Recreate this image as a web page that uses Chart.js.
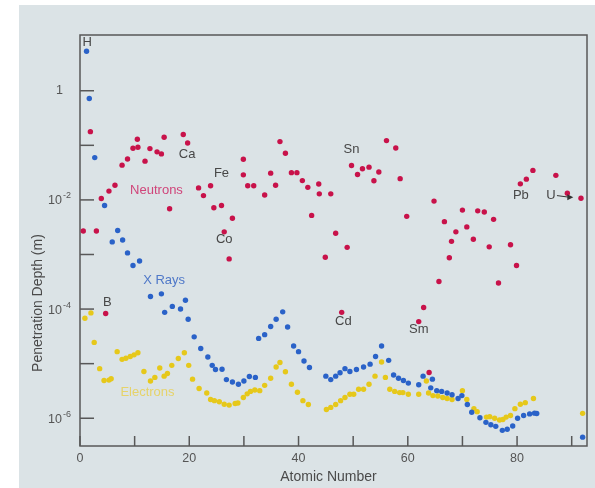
<!DOCTYPE html>
<html lang="en">
<head>
<meta charset="UTF-8">
<title>Penetration Depth vs Atomic Number</title>
<script src="https://cdn.jsdelivr.net/npm/chart.js"></script>
<style>
  html, body { margin: 0; padding: 0; background: #ffffff; }
  #panel { position: absolute; left: 19px; top: 5px; width: 576px; height: 483px; background: #dbe3e6; }
</style>
</head>
<body>
<div id="panel"><canvas id="depthChart" width="576" height="483"></canvas></div>
<script>
// Atomic number and penetration depth (m)
const neutronZ = [0.6, 1.9, 3.0, 3.9, 4.7, 5.3, 6.4, 7.7, 8.7, 9.7, 10.5, 10.6, 11.9, 12.8, 14.1, 14.9, 15.4, 16.4,
  18.9, 19.7, 21.7, 22.6, 23.9, 24.5, 25.9, 26.4, 27.3, 27.9, 29.9, 29.9, 30.7, 31.8, 33.8, 34.9, 35.8, 36.6, 37.6,
  38.7, 39.7, 40.7, 41.7, 42.4, 43.7, 43.8, 44.9, 45.9, 46.8, 47.9, 48.9, 49.7, 50.8, 51.7, 52.9, 53.8, 54.7, 56.1,
  57.8, 58.6, 59.8, 62.0, 62.9, 63.9, 64.8, 65.7, 66.7, 67.6, 68.0, 68.8, 70.0, 70.8, 72.0, 72.8, 74.0, 74.9, 75.7,
  76.6, 78.8, 79.9, 80.6, 81.7, 82.9, 87.1, 89.2, 91.7];
const neutronDepth = [2.7e-3, 0.178, 2.7e-3, 0.0106, 8.3e-5, 0.0145, 0.0186, 0.0433, 0.0562, 0.0885, 0.129, 0.0923, 0.0513, 0.0871, 0.0759, 0.0697, 0.141, 6.9e-3,
  0.158, 0.110, 0.0166, 0.0120, 0.0182, 7.2e-3, 7.9e-3, 2.6e-3, 8.3e-4, 4.6e-3, 0.0557, 0.0288, 0.0182, 0.0182, 0.0123, 0.0309, 0.0186, 0.117, 0.0716,
  0.0316, 0.0316, 0.0226, 0.0170, 5.2e-3, 0.0195, 0.0129, 8.9e-4, 0.0129, 2.45e-3, 8.7e-5, 1.35e-3, 0.0427, 0.0292, 0.0372, 0.0398, 0.0224, 0.0324, 0.122,
  0.0891, 0.0245, 5.0e-3, 5.9e-5, 1.07e-4, 6.9e-6, 9.5e-3, 3.2e-4, 4.0e-3, 8.7e-4, 1.74e-3, 2.6e-3, 6.5e-3, 3.2e-3, 1.9e-3, 6.3e-3, 6.0e-3, 1.38e-3, 4.4e-3,
  3.0e-4, 1.51e-3, 6.3e-4, 0.0197, 0.024, 0.0347, 0.0282, 0.0132, 0.0107];

const xrayZ = [1.2, 1.7, 2.7, 4.5, 5.9, 6.9, 7.8, 8.7, 9.7, 10.9, 12.9, 14.9, 15.5, 16.9, 18.4, 19.3, 19.8, 20.9, 22.1,
  23.4, 24.2, 24.8, 26.0, 26.8, 27.9, 29.0, 30.0, 31.0, 32.1, 32.7, 33.8, 34.9, 35.9, 37.1, 38.0, 39.1, 40.0, 41.0,
  42.0, 45.0, 45.9, 46.8, 47.6, 48.5, 49.4, 50.6, 51.9, 53.1, 54.1, 55.2, 56.5, 57.4, 58.3, 59.2, 60.1, 62.0, 62.8,
  64.2, 64.5, 65.3, 66.2, 67.2, 68.1, 69.2, 69.9, 70.9, 71.7, 73.2, 74.3, 75.2, 76.1, 77.3, 78.2, 79.2, 80.1, 81.2,
  82.3, 83.2, 83.6, 92.0];
const xrayDepth = [5.3, 0.72, 0.0596, 7.9e-3, 1.7e-3, 2.75e-3, 1.84e-3, 1.07e-3, 6.3e-4, 7.6e-4, 1.7e-4, 1.9e-4, 8.7e-5, 1.12e-4, 1.0e-4, 1.45e-4, 6.5e-5, 3.1e-5, 1.9e-5,
  1.32e-5, 9.3e-6, 7.8e-6, 7.9e-6, 5.1e-6, 4.6e-6, 4.2e-6, 4.8e-6, 5.8e-6, 5.6e-6, 2.9e-5, 3.4e-5, 4.8e-5, 6.5e-5, 8.9e-5, 4.7e-5, 2.1e-5, 1.66e-5, 1.12e-5,
  8.5e-6, 5.9e-6, 5.1e-6, 5.9e-6, 6.8e-6, 8.1e-6, 7.2e-6, 7.8e-6, 8.7e-6, 9.8e-6, 1.35e-5, 2.1e-5, 1.15e-5, 6.2e-6, 5.4e-6, 4.9e-6, 4.4e-6, 4.1e-6, 5.9e-6,
  3.6e-6, 5.2e-6, 3.2e-6, 3.1e-6, 2.9e-6, 2.7e-6, 2.3e-6, 2.6e-6, 1.78e-6, 1.29e-6, 1.02e-6, 8.4e-7, 7.6e-7, 7.1e-7, 6.0e-7, 6.3e-7, 7.2e-7, 1.0e-6, 1.12e-6,
  1.2e-6, 1.24e-6, 1.22e-6, 4.5e-7];

const electronZ = [0.9, 2.0, 2.6, 3.6, 4.4, 5.3, 5.7, 6.8, 7.7, 8.4, 9.2, 9.9, 10.6, 11.7, 12.9, 13.7, 14.6, 15.4, 16.0,
  16.8, 18.0, 19.1, 19.9, 20.6, 21.8, 23.2, 23.9, 24.6, 25.5, 26.4, 27.3, 28.4, 28.9, 29.9, 30.6, 31.2, 32.0, 32.9,
  33.8, 34.9, 35.9, 36.6, 37.6, 38.7, 39.8, 40.8, 41.8, 45.1, 45.9, 46.8, 47.7, 48.5, 49.4, 50.1, 51.0, 51.9, 52.9,
  54.0, 55.2, 55.9, 56.7, 57.6, 58.5, 59.1, 60.1, 62.0, 63.4, 63.8, 64.6, 65.5, 66.4, 67.2, 68.1, 70.0, 70.8, 72.1,
  72.7, 74.4, 75.0, 75.9, 76.8, 77.4, 78.0, 78.8, 79.6, 80.6, 81.5, 83.0, 92.0];
const electronDepth = [6.8e-5, 8.5e-5, 2.45e-5, 8.1e-6, 4.9e-6, 5.0e-6, 5.3e-6, 1.66e-5, 1.2e-5, 1.26e-5, 1.35e-5, 1.45e-5, 1.58e-5, 7.2e-6, 4.8e-6, 5.6e-6, 8.3e-6, 5.9e-6, 6.6e-6,
  9.3e-6, 1.24e-5, 1.58e-5, 9.3e-6, 5.2e-6, 3.5e-6, 2.9e-6, 2.2e-6, 2.1e-6, 2.0e-6, 1.8e-6, 1.74e-6, 1.86e-6, 1.9e-6, 2.4e-6, 2.8e-6, 3.1e-6, 3.3e-6, 3.2e-6,
  4.0e-6, 5.4e-6, 8.7e-6, 1.05e-5, 7.1e-6, 4.2e-6, 3.0e-6, 2.1e-6, 1.78e-6, 1.45e-6, 1.58e-6, 1.78e-6, 2.1e-6, 2.4e-6, 2.75e-6, 2.75e-6, 3.4e-6, 3.4e-6, 4.2e-6,
  5.9e-6, 1.07e-5, 5.6e-6, 3.4e-6, 3.1e-6, 2.95e-6, 2.95e-6, 2.75e-6, 2.75e-6, 4.8e-6, 2.9e-6, 2.6e-6, 2.55e-6, 2.4e-6, 2.3e-6, 2.2e-6, 3.2e-6, 2.2e-6, 1.5e-6,
  1.32e-6, 1.05e-6, 1.07e-6, 1.0e-6, 9.3e-7, 9.5e-7, 1.05e-6, 1.12e-6, 1.5e-6, 1.8e-6, 1.93e-6, 2.3e-6, 1.23e-6];

// axis ticks
const xTicks = [0, 10, 20, 30, 40, 50, 60, 70, 80, 90];
const xLabels = ['0', '', '20', '', '40', '', '60', '', '80', ''];
const yExponents = [0, -1, -2, -3, -4, -5, -6];
const yLabels = ['1', '', '-2', '', '-4', '', '-6'];

// element and series labels: [text, Z, depth, colour]
const notes = [
  ['H', 1.3, 7.6, '#474747'],
  ['Ca', 19.6, 0.069, '#474747'],
  ['Fe', 25.9, 0.031, '#474747'],
  ['Co', 26.4, 1.86e-3, '#474747'],
  ['B', 5.0, 1.35e-4, '#474747'],
  ['Sn', 49.7, 0.083, '#474747'],
  ['Cd', 48.2, 6.0e-5, '#474747'],
  ['Sm', 62.0, 4.3e-5, '#474747'],
  ['Pb', 80.7, 0.012, '#474747'],
  ['U', 86.2, 0.012, '#474747'],
  ['Neutrons', 14.0, 0.0151, '#d0457a'],
  ['X Rays', 15.4, 3.3e-4, '#4f78c8'],
  ['Electrons', 12.35, 2.95e-6, '#e6d36a']
];

const toPoints = (xs, ys) => xs.map((x, i) => ({ x: x, y: ys[i] }));

const decor = {
  id: 'decor',
  beforeDatasetsDraw(chart) {
    const ctx = chart.ctx, a = chart.chartArea;
    const xs = chart.scales.x, ys = chart.scales.y;
    ctx.save();
    ctx.strokeStyle = '#585858';
    ctx.lineWidth = 1.5;
    ctx.strokeRect(a.left, a.top, a.right - a.left, a.bottom - a.top);
    ctx.fillStyle = '#555';
    ctx.font = '12.5px "Liberation Sans", Arial, sans-serif';
    ctx.textAlign = 'center';
    ctx.textBaseline = 'middle';
    xTicks.forEach((v, i) => {
      const px = xs.getPixelForValue(v);
      ctx.beginPath();
      ctx.moveTo(px, a.bottom);
      ctx.lineTo(px, a.bottom - 10);
      ctx.stroke();
      if (xLabels[i]) ctx.fillText(xLabels[i], px, a.bottom + 13);
    });
    yExponents.forEach((e, i) => {
      const py = ys.getPixelForValue(Math.pow(10, e));
      ctx.beginPath();
      ctx.moveTo(a.left, py);
      ctx.lineTo(a.left + 14, py);
      ctx.stroke();
      const lab = yLabels[i];
      if (!lab) return;
      ctx.textAlign = 'right';
      ctx.font = '12.5px "Liberation Sans", Arial, sans-serif';
      if (lab === '1') {
        ctx.fillText('1', a.left - 17, py);
      } else {
        ctx.fillText('10', a.left - 18, py + 1);
        ctx.textAlign = 'left';
        ctx.font = '9px "Liberation Sans", Arial, sans-serif';
        ctx.fillText(lab, a.left - 17, py - 4);
      }
    });
    // axis titles
    ctx.font = '14px "Liberation Sans", Arial, sans-serif';
    ctx.textAlign = 'center';
    ctx.fillStyle = '#4a4a4a';
    ctx.fillText('Atomic Number', (a.left + a.right) / 2 - 5, a.bottom + 31);
    ctx.translate(a.left - 42, ys.getPixelForValue(3e-4) + 20);
    ctx.rotate(-Math.PI / 2);
    ctx.fillText('Penetration Depth (m)', 0, 0);
    ctx.restore();
  },
  afterDatasetsDraw(chart) {
    const ctx = chart.ctx;
    const xs = chart.scales.x, ys = chart.scales.y;
    ctx.save();
    ctx.font = '13px "Liberation Sans", Arial, sans-serif';
    ctx.textAlign = 'center';
    ctx.textBaseline = 'middle';
    notes.forEach(n => {
      ctx.fillStyle = n[3];
      ctx.fillText(n[0], xs.getPixelForValue(n[1]), ys.getPixelForValue(n[2]));
    });
    // arrow from U to its point
    const x0 = xs.getPixelForValue(87.3), x1 = xs.getPixelForValue(90.3);
    const y0 = ys.getPixelForValue(0.012), y1 = ys.getPixelForValue(0.0112);
    ctx.strokeStyle = '#333';
    ctx.fillStyle = '#333';
    ctx.lineWidth = 1;
    ctx.beginPath();
    ctx.moveTo(x0, y0);
    ctx.lineTo(x1 - 4, y1);
    ctx.stroke();
    ctx.beginPath();
    ctx.moveTo(x1, y1);
    ctx.lineTo(x1 - 6, y1 - 3);
    ctx.lineTo(x1 - 6, y1 + 3);
    ctx.closePath();
    ctx.fill();
    ctx.restore();
  }
};

new Chart(document.getElementById('depthChart').getContext('2d'), {
  type: 'scatter',
  data: {
    datasets: [
      { label: 'Neutrons', data: toPoints(neutronZ, neutronDepth), backgroundColor: '#c8124a', borderWidth: 0, pointRadius: 2.7 },
      { label: 'X Rays', data: toPoints(xrayZ, xrayDepth), backgroundColor: '#2a62c8', borderWidth: 0, pointRadius: 2.7 },
      { label: 'Electrons', data: toPoints(electronZ, electronDepth), backgroundColor: '#e6c81a', borderWidth: 0, pointRadius: 2.7 }
    ]
  },
  options: {
    responsive: false,
    animation: false,
    layout: { padding: { left: 0, top: 30, right: 8, bottom: 0 } },
    plugins: { legend: { display: false }, tooltip: { enabled: false } },
    scales: {
      x: {
        type: 'linear', min: 0, max: 92.8,
        grid: { display: false }, border: { display: false }, ticks: { display: false },
        afterFit: s => { s.height = 42; }
      },
      y: {
        type: 'logarithmic', min: 3.1e-7, max: 10.5,
        grid: { display: false }, border: { display: false }, ticks: { display: false },
        afterFit: s => { s.width = 61; }
      }
    }
  },
  plugins: [decor]
});
</script>
</body>
</html>
